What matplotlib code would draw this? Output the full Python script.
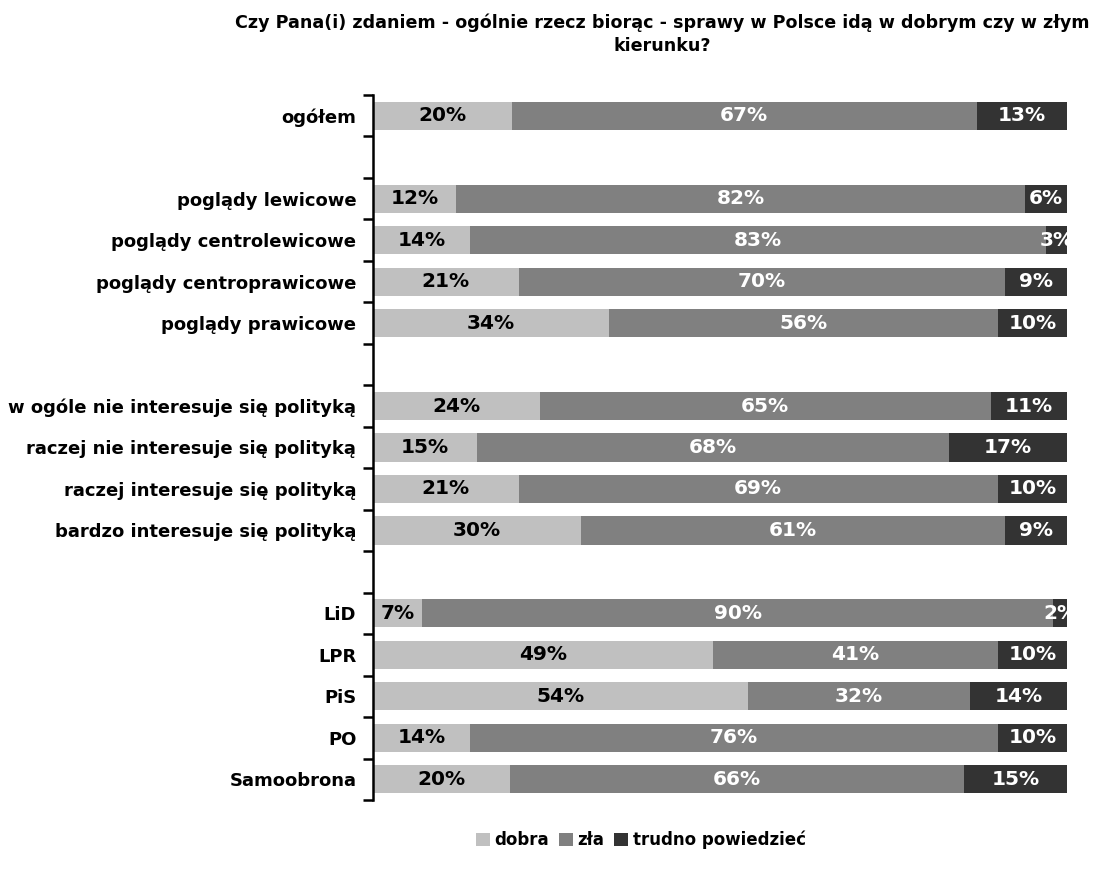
import matplotlib.pyplot as plt
from matplotlib.patches import Patch
import numpy as np

plt.rcParams['font.family'] = ['DejaVu Sans']

# rows of the chart ('' = empty spacer row)
categories = ['ogółem', '',
              'poglądy lewicowe', 'poglądy centrolewicowe',
              'poglądy centroprawicowe', 'poglądy prawicowe', '',
              'w ogóle nie interesuje się polityką', 'raczej nie interesuje się polityką',
              'raczej interesuje się polityką', 'bardzo interesuje się polityką', '',
              'LiD', 'LPR', 'PiS', 'PO', 'Samoobrona']
dobra = [20, 0, 12, 14, 21, 34, 0, 24, 15, 21, 30, 0, 7, 49, 54, 14, 20]
zla = [67, 0, 82, 83, 70, 56, 0, 65, 68, 69, 61, 0, 90, 41, 32, 76, 66]
trudno = [13, 0, 6, 3, 9, 10, 0, 11, 17, 10, 9, 0, 2, 10, 14, 10, 15]
series_names = ['dobra', 'zła', 'trudno powiedzieć']

colors = ['#C0C0C0', '#808080', '#333333']
text_colors = ['black', 'white', 'white']

fig = plt.figure(figsize=(10.95, 8.74), dpi=100)
ax = fig.add_axes([373 / 1095, 1 - 800 / 874, 694 / 1095, 705 / 874])

vals = np.array([dobra, zla, trudno], dtype=float)
totals = vals.sum(axis=0)
totals[totals == 0] = 1
shares = vals / totals  # 100% stacked, like the original

y = np.arange(len(categories))
left = np.zeros(len(categories))
for k in range(3):
    ax.barh(y, shares[k], left=left, height=0.68, color=colors[k], edgecolor='none')
    for i in range(len(categories)):
        if vals[k, i] > 0:
            ax.text(left[i] + shares[k, i] / 2, y[i], f'{int(vals[k, i])}%',
                    ha='center', va='center', fontsize=14.5, fontweight='bold',
                    color=text_colors[k], clip_on=True)
    left = left + shares[k]

ax.set_xlim(0, 1)
ax.set_ylim(len(categories) - 0.5, -0.5)
ax.set_yticks(y)
ax.set_yticklabels(categories, fontsize=13, fontweight='bold')
ax.tick_params(axis='y', which='major', length=0, pad=12)
ax.set_yticks(np.arange(-0.5, len(categories), 1), minor=True)
ax.tick_params(axis='y', which='minor', length=7, width=1.8, direction='out')
ax.set_xticks([])
for s in ['top', 'right', 'bottom']:
    ax.spines[s].set_visible(False)
ax.spines['left'].set_linewidth(1.8)

fig.text(662 / 1095, 1 - 13 / 874,
         'Czy Pana(i) zdaniem - ogólnie rzecz biorąc - sprawy w Polsce idą w dobrym czy w złym\nkierunku?',
         ha='center', va='top', fontsize=12.6, fontweight='bold', linespacing=1.4)

handles = [Patch(facecolor=c, edgecolor='none') for c in colors]
fig.legend(handles, series_names, loc='center', bbox_to_anchor=(641 / 1095, 1 - 840 / 874),
           ncol=3, frameon=False, handlelength=0.8, handleheight=0.8,
           handletextpad=0.3, columnspacing=0.6,
           prop={'size': 12, 'weight': 'bold'})

fig.savefig('out.png', dpi=100)
